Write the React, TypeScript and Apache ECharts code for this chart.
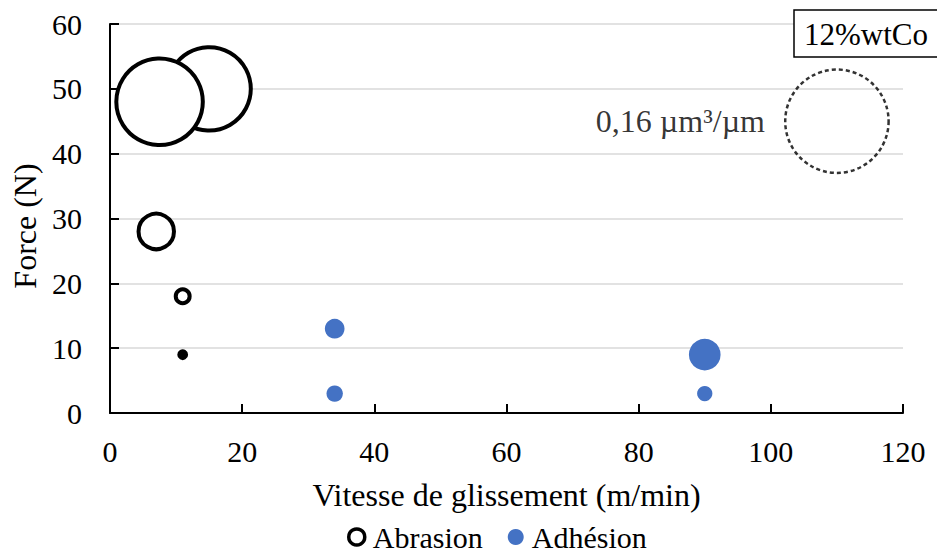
import React, { useEffect, useRef } from "react";
import * as echarts from "echarts";

// Data
const abrasionX = [15, 7.5, 7, 11, 11];
const abrasionY = [50, 48, 28, 18, 9];
const abrasionVol = [0.104, 0.112, 0.0188, 0.0029, 0.0007]; // µm³/µm

const adhesionX = [34, 34, 90, 90];
const adhesionY = [13, 3, 9, 3];
const adhesionVol = [0.0058, 0.004, 0.015, 0.0035];

const refX = [110];
const refY = [45];
const refVol = [0.16];
const refLabel = "0,16 µm³/µm";
const materialLabel = "12%wtCo";

const xTicks = { min: 0, max: 120, interval: 20 };
const yTicks = { min: 0, max: 60, interval: 10 };

const FONT = "'Liberation Serif', 'Times New Roman', serif";
const BLUE = "#4472C4";
const REF_SIZE = 103.4; // diameter in px for the reference bubble

const sizeOf = (v: number) => REF_SIZE * Math.sqrt(v / refVol[0]);

export default function App() {
  const ref = useRef<HTMLDivElement>(null);
  useEffect(() => {
    if (!ref.current) return;
    const chart = echarts.init(ref.current, undefined, { renderer: "svg" });
    const abrasionData = abrasionX.map((x, i) => {
      const d: any = { value: [x, abrasionY[i], abrasionVol[i]] };
      if (abrasionVol[i] < 0.001) d.itemStyle = { color: "#000" };
      return d;
    });
    const adhesionData = adhesionX.map((x, i) => [x, adhesionY[i], adhesionVol[i]]);
    const refData = refX.map((x, i) => [x, refY[i], refVol[i]]);

    chart.setOption({
      animation: false,
      textStyle: { fontFamily: FONT, color: "#000" },
      grid: { left: 110, right: 34, top: 24, bottom: 140, containLabel: false },
      xAxis: {
        type: "value",
        min: xTicks.min,
        max: xTicks.max,
        interval: xTicks.interval,
        name: "Vitesse de glissement (m/min)",
        nameLocation: "middle",
        nameGap: 82,
        nameTextStyle: { fontFamily: FONT, fontSize: 32, color: "#000", verticalAlign: "middle" },
        axisLine: { lineStyle: { color: "#000", width: 2 } },
        axisTick: { inside: true, length: 9, lineStyle: { color: "#000", width: 2 } },
        axisLabel: { fontFamily: FONT, fontSize: 30, color: "#000", margin: 23 },
        splitLine: { show: false },
      },
      yAxis: {
        type: "value",
        min: yTicks.min,
        max: yTicks.max,
        interval: yTicks.interval,
        axisLine: { show: true, lineStyle: { color: "#000", width: 2 } },
        axisTick: { show: true, inside: true, length: 9, lineStyle: { color: "#000", width: 2 } },
        axisLabel: { fontFamily: FONT, fontSize: 30, color: "#000", margin: 28 },
        splitLine: { show: true, lineStyle: { color: "#d9d9d9", width: 1.5 } },
      },
      legend: {
        left: 347,
        top: 522,
        padding: 0,
        itemGap: 25,
        itemWidth: 16,
        itemHeight: 16,
        textStyle: { fontFamily: FONT, fontSize: 30, lineHeight: 24, color: "#000", padding: [0, 0, 0, 3] },
        data: [
          { name: "Abrasion", icon: "circle", itemStyle: { color: "#fff", borderColor: "#000", borderWidth: 3.5 } },
          { name: "Adhésion", icon: "circle", itemStyle: { color: BLUE, borderWidth: 0 } },
        ],
      },
      series: [
        {
          name: "Abrasion",
          type: "scatter",
          data: abrasionData,
          symbol: "circle",
          symbolSize: (v: number[]) => sizeOf(v[2]),
          itemStyle: { color: "#fff", borderColor: "#000", borderWidth: 4, opacity: 1 },
          z: 3,
        },
        {
          name: "Adhésion",
          type: "scatter",
          data: adhesionData,
          symbol: "circle",
          symbolSize: (v: number[]) => sizeOf(v[2]),
          itemStyle: { color: BLUE, opacity: 1 },
          z: 3,
        },
        {
          name: "Référence",
          type: "scatter",
          data: refData,
          symbol: "circle",
          symbolSize: (v: number[]) => sizeOf(v[2]),
          itemStyle: { color: "rgba(0,0,0,0)", borderColor: "#000", borderWidth: 2.5, borderType: [4, 3] },
          label: {
            show: true,
            position: "left",
            distance: 19,
            formatter: refLabel,
            fontFamily: FONT,
            fontSize: 32,
            color: "#000",
          },
          z: 3,
        },
      ],
      graphic: [
        {
          type: "text",
          x: 25,
          y: 226,
          rotation: Math.PI / 2,
          style: {
            text: "Force (N)",
            font: `32px ${FONT}`,
            fill: "#000",
            align: "center",
            verticalAlign: "middle",
          },
        },
        {
          type: "rect",
          z: 10,
          shape: { x: 794, y: 10, width: 160, height: 47 },
          style: { fill: "#fff", stroke: "#000", lineWidth: 1.5 },
        },
        {
          type: "text",
          z: 11,
          x: 804,
          y: 34,
          style: {
            text: materialLabel,
            font: `31px ${FONT}`,
            fill: "#000",
            align: "left",
            verticalAlign: "middle",
          },
        },
      ],
    });
    return () => chart.dispose();
  }, []);
  return <div ref={ref} style={{ width: 937, height: 553, position: "absolute", left: 0, top: 0 }} />;
}
